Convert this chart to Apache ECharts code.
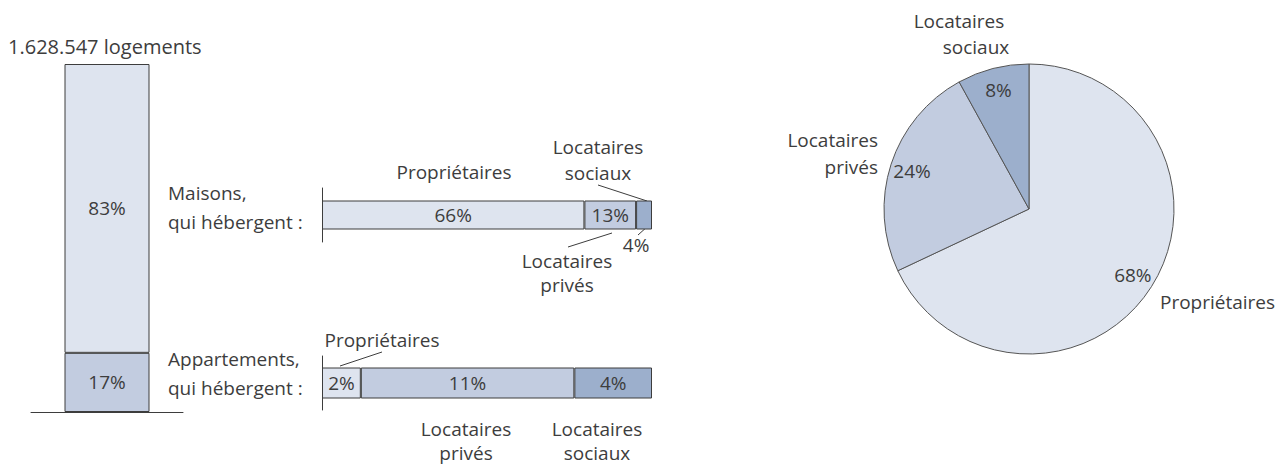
<!DOCTYPE html>
<html lang="fr">
<head>
    <meta charset="UTF-8">
    <title>Logements</title>
    <style>
        html, body { margin: 0; padding: 0; background: #fff; }
        #chart { width: 1288px; height: 466px; }
    </style>
    <script src="https://cdn.jsdelivr.net/npm/echarts@6/dist/echarts.min.js"></script>
</head>
<body>
    <div id="chart"></div>
    <script>
        // données
        var totalLabel = '1.628.547 logements';
        var typeNames = ['Maisons', 'Appartements'];
        var typeShares = [83, 17];
        var statusNames = ['Propriétaires', 'Locataires privés', 'Locataires sociaux'];
        var maisonsShares = [66, 13, 4];
        var apptShares = [2, 11, 4];
        var totalShares = [68, 24, 8];

        var colors = ['#dee4ef', '#c2cce0', '#9cafcc'];
        var ink = '#3d3d3d';
        var font = '"Open Sans", sans-serif';
        var fs = 19;

        var labelStyle = { fontFamily: font, fontSize: fs, color: ink };

        // petit texte libre
        function txt(x, y, s, align, size, lh) {
            var st = { text: s, font: (size || fs) + 'px ' + font, fill: ink, align: align || 'center', verticalAlign: 'middle' };
            if (lh) st.lineHeight = lh;
            return { type: 'text', x: x, y: y, silent: true, style: st };
        }
        function seg(x1, y1, x2, y2) {
            return {
                type: 'line', silent: true,
                shape: { x1: x1, y1: y1, x2: x2, y2: y2 },
                style: { stroke: ink, lineWidth: 1 }
            };
        }

        var series = [];

        // barre verticale : appartements en bas, maisons en haut
        [1, 0].forEach(function (i) {
            series.push({
                type: 'bar', name: typeNames[i], stack: 'type',
                xAxisIndex: 0, yAxisIndex: 0, barWidth: 85,
                data: [typeShares[i]],
                itemStyle: { color: colors[i === 0 ? 0 : 1], borderColor: ink, borderWidth: 1 },
                label: Object.assign({ show: true, position: 'inside', formatter: '{c}%' }, labelStyle)
            });
        });

        // barres horizontales maisons / appartements
        [maisonsShares, apptShares].forEach(function (shares, g) {
            shares.forEach(function (v, i) {
                var lab = Object.assign({ show: true, position: 'inside', formatter: '{c}%' }, labelStyle);
                if (g === 0 && i === 2) {
                    lab.position = 'bottom';
                    lab.distance = 6;
                    lab.offset = [-8, 0];
                }
                series.push({
                    type: 'bar', name: statusNames[i], stack: 'h' + g,
                    xAxisIndex: g + 1, yAxisIndex: g + 1, barWidth: g === 0 ? 29 : 31,
                    data: [v],
                    itemStyle: { color: colors[i], borderColor: ink, borderWidth: 1 },
                    label: lab
                });
            });
        });

        // camembert
        var pieData = totalShares.map(function (v, i) {
            return { name: statusNames[i], value: v, itemStyle: { color: colors[i] } };
        });
        series.push({
            type: 'pie', center: [1029, 209], radius: 145, startAngle: 90,
            avoidLabelOverlap: false, silent: true,
            itemStyle: { borderColor: '#555', borderWidth: 1 },
            label: { show: false }, labelLine: { show: false },
            data: pieData
        });
        // anneau transparent pour placer les pourcentages
        series.push({
            type: 'pie', center: [1029, 209], radius: [95, 145], startAngle: 90,
            avoidLabelOverlap: false, silent: true,
            itemStyle: { color: 'transparent', borderWidth: 0 },
            label: Object.assign({ show: true, position: 'inside', formatter: '{c}%' }, labelStyle),
            labelLine: { show: false },
            data: totalShares.map(function (v, i) { return { name: statusNames[i], value: v }; })
        });

        var hidden = { show: false };
        var lineAxis = { show: true, lineStyle: { color: ink, width: 1 } };

        var option = {
            animation: false,
            grid: [
                { left: 31, top: 64, width: 152, height: 348 },
                { left: 322, top: 188, width: 330, height: 54 },
                { left: 322, top: 356, width: 330, height: 54 }
            ],
            xAxis: [
                { type: 'category', gridIndex: 0, data: [totalLabel], axisLine: lineAxis, axisTick: hidden, axisLabel: hidden },
                { type: 'value', gridIndex: 1, min: 0, max: 83, show: false },
                { type: 'value', gridIndex: 2, min: 0, max: 17, show: false }
            ],
            yAxis: [
                { type: 'value', gridIndex: 0, min: 0, max: 100, show: false },
                { type: 'category', gridIndex: 1, data: [typeNames[0]], axisLine: lineAxis, axisTick: hidden, axisLabel: hidden, splitLine: hidden },
                { type: 'category', gridIndex: 2, data: [typeNames[1]], axisLine: lineAxis, axisTick: hidden, axisLabel: hidden, splitLine: hidden }
            ],
            series: series,
            graphic: [
                txt(8, 46, totalLabel, 'left', 20),
                txt(168, 207, typeNames[0] + ',\nqui hébergent :', 'left', fs, 29),
                txt(168, 373, typeNames[1] + ',\nqui hébergent :', 'left', fs, 29),

                // maisons
                txt(454, 172, statusNames[0]),
                txt(598, 160, 'Locataires\nsociaux', 'center', fs, 26),
                seg(598, 185, 647, 201),
                txt(567, 273, 'Locataires\nprivés', 'center', fs, 24),
                seg(568, 247, 612, 233),
                seg(638, 235, 648, 226),

                // appartements
                txt(382, 340, statusNames[0]),
                seg(340, 366, 382, 352),
                txt(466, 441, 'Locataires\nprivés', 'center', fs, 24),
                txt(597, 441, 'Locataires\nsociaux', 'center', fs, 24),

                // camembert
                txt(959, 21, 'Locataires'),
                txt(976, 47, 'sociaux'),
                txt(878, 153, 'Locataires\nprivés', 'right', fs, 27),
                txt(1160, 302, statusNames[0], 'left')
            ]
        };

        var chart = echarts.init(document.getElementById('chart'), null, { renderer: 'svg' });
        chart.setOption(option);
    </script>
</body>
</html>
